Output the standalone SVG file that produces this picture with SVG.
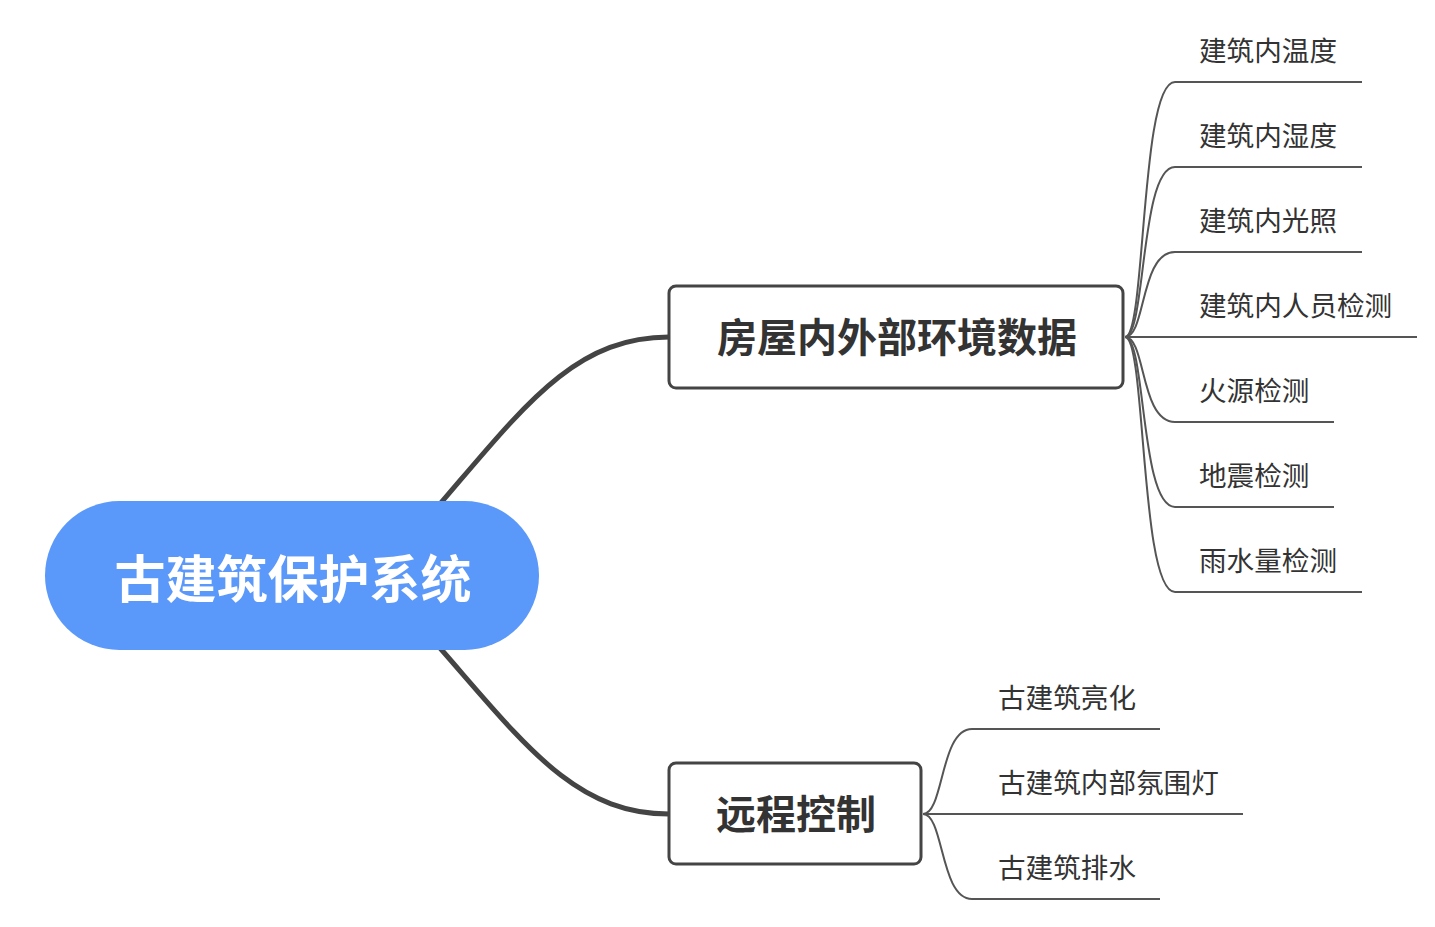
<svg xmlns="http://www.w3.org/2000/svg" width="1435" height="927" viewBox="0 0 1435 927">
<style>
.main{stroke:#444;stroke-width:5;fill:none;stroke-linecap:round}
.sub{stroke:#555;stroke-width:2;fill:none}
.leaf{font-family:"Noto Sans CJK SC","Noto Sans",sans-serif;font-size:27.6px;fill:#333}
.bt{font-family:"Noto Sans CJK SC","Noto Sans",sans-serif;font-size:40px;font-weight:bold;fill:#333;text-anchor:middle}
.box{fill:#fff;stroke:#444;stroke-width:3}
</style>
<rect width="1435" height="927" fill="#fff"/>
<g id="connectors">
<path class="main" d="M440,504 C525,405 575,337 669,337"/>
<path class="main" d="M440,648 C525,745 575,814 669,814"/>
<path class="sub" d="M1125,337 C1146,337 1140,82 1175,82 L1362,82"/>
<path class="sub" d="M1125,337 C1146,337 1140,167 1175,167 L1362,167"/>
<path class="sub" d="M1125,337 C1146,337 1140,252 1175,252 L1362,252"/>
<path class="sub" d="M1125,337 L1417,337"/>
<path class="sub" d="M1125,337 C1146,337 1140,422 1175,422 L1334,422"/>
<path class="sub" d="M1125,337 C1146,337 1140,507 1175,507 L1334,507"/>
<path class="sub" d="M1125,337 C1146,337 1140,592 1175,592 L1362,592"/>
<path class="sub" d="M923,814 C944,814 940,729 972,729 L1160,729"/>
<path class="sub" d="M923,814 L1243,814"/>
<path class="sub" d="M923,814 C944,814 940,899 972,899 L1160,899"/>
</g>
<g id="root">
<rect x="45" y="501" width="494" height="149" rx="74.5" fill="#5A98FA"/>
<text x="293" y="598" font-family="Noto Sans CJK SC,sans-serif" font-size="51" font-weight="bold" fill="#fff" text-anchor="middle">古建筑保护系统</text>
</g>
<g id="branch1">
<rect class="box" x="669" y="286" width="454" height="102" rx="7"/>
<text class="bt" x="897" y="352">房屋内外部环境数据</text>
</g>
<g id="branch2">
<rect class="box" x="669" y="763" width="252" height="101" rx="7"/>
<text class="bt" x="796" y="829">远程控制</text>
</g>
<g id="leaf1"><text class="leaf" x="1199" y="61">建筑内温度</text></g>
<g id="leaf2"><text class="leaf" x="1199" y="146">建筑内湿度</text></g>
<g id="leaf3"><text class="leaf" x="1199" y="231">建筑内光照</text></g>
<g id="leaf4"><text class="leaf" x="1199" y="316">建筑内人员检测</text></g>
<g id="leaf5"><text class="leaf" x="1199" y="401">火源检测</text></g>
<g id="leaf6"><text class="leaf" x="1199" y="486">地震检测</text></g>
<g id="leaf7"><text class="leaf" x="1199" y="571">雨水量检测</text></g>
<g id="leaf8"><text class="leaf" x="998" y="708">古建筑亮化</text></g>
<g id="leaf9"><text class="leaf" x="998" y="793">古建筑内部氛围灯</text></g>
<g id="leaf10"><text class="leaf" x="998" y="878">古建筑排水</text></g>
</svg>
